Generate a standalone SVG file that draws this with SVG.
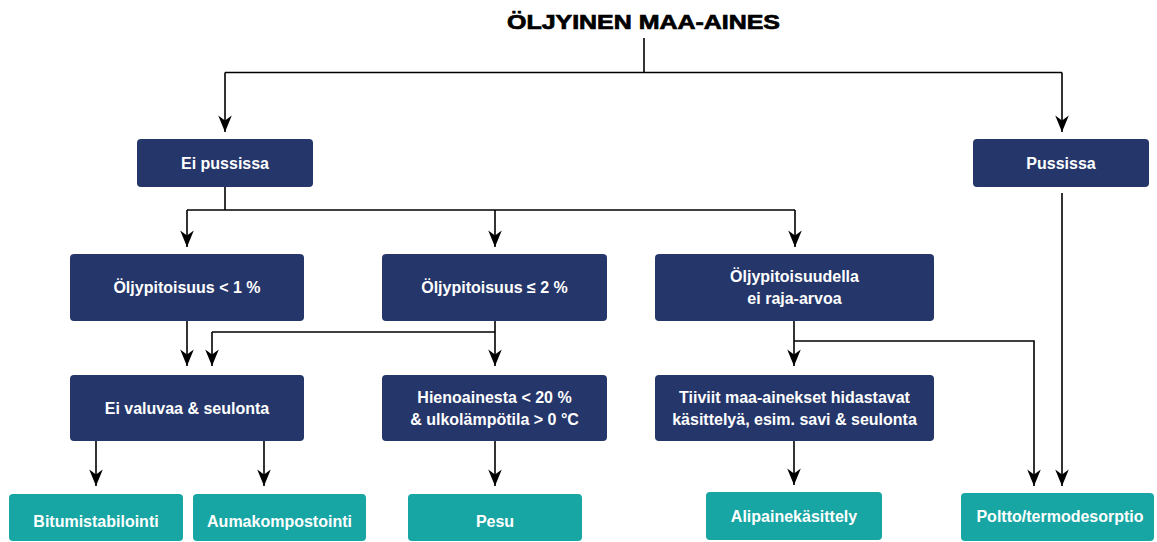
<svg xmlns="http://www.w3.org/2000/svg" width="1157" height="542" viewBox="0 0 1157 542">
  <defs>
    <marker id="arrow" markerWidth="18" markerHeight="16" viewBox="-17 -8 18 16" refX="0" refY="0" orient="auto" markerUnits="userSpaceOnUse">
      <path d="M0,0 L-16.5,-6.8 L-11.5,0 L-16.5,6.8 Z" fill="#000"/>
    </marker>
    <style>
      .bg { fill: #ffffff; }
      .navy { fill: #25366a; }
      .teal { fill: #17a6a4; }
      .label { font-family: "Liberation Sans", Arial, sans-serif; font-weight: bold; font-size: 16px; fill: #ffffff; text-anchor: middle; }
      .title { font-family: "Liberation Sans", Arial, sans-serif; font-weight: bold; font-size: 20px; fill: #000000; stroke: #000000; stroke-width: 0.7; }
      .line { fill: none; stroke: #000; stroke-width: 1.6; }
      .arrow { fill: none; stroke: #000; stroke-width: 1.6; marker-end: url(#arrow); }
    </style>
  </defs>

  <rect class="bg" x="0" y="0" width="1157" height="542"/>

  <text id="title" class="title" x="507" y="28.5" textLength="273" lengthAdjust="spacingAndGlyphs">ÖLJYINEN MAA-AINES</text>

  <!-- connectors -->
  <g id="connectors">
    <path class="line" d="M644,38 V72.5"/>
    <path class="line" d="M225,72.5 H1062"/>
    <path class="arrow" d="M225,72.5 V132"/>
    <path class="arrow" d="M1062,72.5 V132"/>

    <path class="line" d="M225,187 V210"/>
    <path class="line" d="M187,210 H795"/>
    <path class="arrow" d="M187,210 V247"/>
    <path class="arrow" d="M495,210 V247"/>
    <path class="arrow" d="M795,210 V247"/>

    <path class="arrow" d="M187,321 V366"/>
    <path class="arrow" d="M495,321 V366"/>
    <path class="line" d="M212,332 H495"/>
    <path class="arrow" d="M212,332 V366"/>

    <path class="arrow" d="M794,321 V366"/>
    <path class="arrow" d="M794,341 H1034 V486"/>
    <path class="arrow" d="M1062,193 V486"/>

    <path class="arrow" d="M96,441 V486"/>
    <path class="arrow" d="M264,441 V486"/>
    <path class="arrow" d="M495,441 V486"/>
    <path class="arrow" d="M794,441 V485"/>
  </g>

  <!-- decision and process nodes -->
  <g id="ei-pussissa">
    <rect class="navy" x="137" y="139" width="176" height="48" rx="4"/>
    <text class="label" x="225" y="169">Ei pussissa</text>
  </g>
  <g id="pussissa">
    <rect class="navy" x="973" y="139" width="176" height="48" rx="4"/>
    <text class="label" x="1061" y="169">Pussissa</text>
  </g>

  <g id="oljy-alle-1">
    <rect class="navy" x="70" y="254" width="234" height="67" rx="4"/>
    <text class="label" x="187" y="293">Öljypitoisuus &lt; 1 %</text>
  </g>
  <g id="oljy-max-2">
    <rect class="navy" x="382" y="254" width="225" height="67" rx="4"/>
    <text class="label" x="494.5" y="293">Öljypitoisuus ≤ 2 %</text>
  </g>
  <g id="ei-raja-arvoa">
    <rect class="navy" x="655" y="254" width="279" height="67" rx="4"/>
    <text class="label" x="794.5" y="282">Öljypitoisuudella</text>
    <text class="label" x="794.5" y="304">ei raja-arvoa</text>
  </g>

  <g id="ei-valuvaa">
    <rect class="navy" x="70" y="375" width="234" height="66" rx="4"/>
    <text class="label" x="187" y="413.5">Ei valuvaa &amp; seulonta</text>
  </g>
  <g id="hienoainesta">
    <rect class="navy" x="382" y="375" width="225" height="66" rx="4"/>
    <text class="label" x="494.5" y="403">Hienoainesta &lt; 20 %</text>
    <text class="label" x="494.5" y="425">&amp; ulkolämpötila &gt; 0 °C</text>
  </g>
  <g id="tiiviit">
    <rect class="navy" x="655" y="375" width="279" height="66" rx="4"/>
    <text class="label" x="794.5" y="403">Tiiviit maa-ainekset hidastavat</text>
    <text class="label" x="794.5" y="425">käsittelyä, esim. savi &amp; seulonta</text>
  </g>

  <!-- treatment methods -->
  <g id="bitumistabilointi">
    <rect class="teal" x="9" y="494" width="174" height="47" rx="4"/>
    <text class="label" x="96" y="527">Bitumistabilointi</text>
  </g>
  <g id="aumakompostointi">
    <rect class="teal" x="193" y="494" width="173" height="47" rx="4"/>
    <text class="label" x="279.5" y="527">Aumakompostointi</text>
  </g>
  <g id="pesu">
    <rect class="teal" x="408" y="494" width="174" height="47" rx="4"/>
    <text class="label" x="495" y="527">Pesu</text>
  </g>
  <g id="alipainekasittely">
    <rect class="teal" x="706" y="492" width="176" height="48" rx="4"/>
    <text class="label" x="794" y="522">Alipainekäsittely</text>
  </g>
  <g id="poltto">
    <rect class="teal" x="961" y="493" width="193" height="48" rx="4"/>
    <text class="label" x="1060" y="522">Poltto/termodesorptio</text>
  </g>
</svg>
